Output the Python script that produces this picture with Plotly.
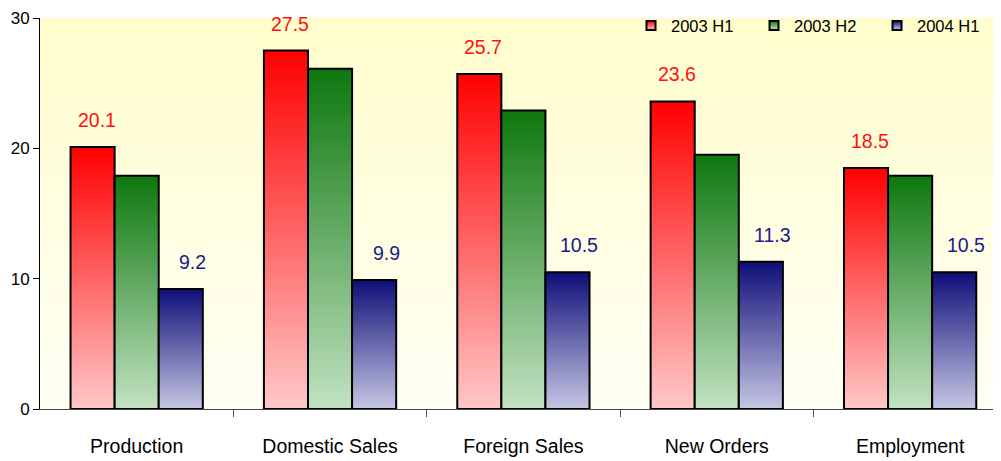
import base64
import plotly.graph_objects as go

categories = ["Production", "Domestic Sales", "Foreign Sales", "New Orders", "Employment"]
series_names = ["2003 H1", "2003 H2", "2004 H1"]
h1_2003 = [20.1, 27.5, 25.7, 23.6, 18.5]
h2_2003 = [17.9, 26.1, 22.9, 19.5, 17.9]
h1_2004 = [9.2, 9.9, 10.5, 11.3, 10.5]
y_ticks = [0, 10, 20, 30]

series_values = [h1_2003, h2_2003, h1_2004]
top_colors = ["#FF0000", "#0E780E", "#0E0E78"]
bottom_colors = ["#FFC8C8", "#C2E2C2", "#C6C6E4"]
label_colors = ["#FF1010", None, "#1A1A8C"]
label_xshift = [4, 0, 12]

FONT = "Liberation Sans, Arial, Helvetica, sans-serif"
bar_w = 0.228
offsets = [-bar_w, 0.0, bar_w]

fig = go.Figure()
annotations = []
for s, (name, vals) in enumerate(zip(series_names, series_values)):
    for i, v in enumerate(vals):
        xc = i + offsets[s]
        x0, x1 = xc - bar_w / 2, xc + bar_w / 2
        fig.add_trace(go.Scatter(
            x=[x0, x0, x1, x1, x0], y=[0, v, v, 0, 0],
            mode="lines", fill="toself",
            fillgradient=dict(type="vertical",
                              colorscale=[[0, bottom_colors[s]], [1, top_colors[s]]]),
            line=dict(color="#000000", width=2),
            name=name, legendgroup=name, showlegend=False,
            hoverinfo="skip",
        ))
        if label_colors[s]:
            annotations.append(dict(
                x=xc, y=v, xref="x", yref="y", text=f"{v:.1f}", showarrow=False,
                yshift=27, xshift=label_xshift[s],
                font=dict(family=FONT, size=19.5, color=label_colors[s]),
            ))

# legend entries (square gradient swatches)
for s, name in enumerate(series_names):
    fig.add_trace(go.Scatter(
        x=[None], y=[None], mode="markers", name=name, legendgroup=name,
        marker=dict(symbol="square", size=9, color=top_colors[s],
                    gradient=dict(type="vertical", color=bottom_colors[s]),
                    line=dict(color="black", width=2)),
    ))

svg = ('<svg xmlns="http://www.w3.org/2000/svg" width="100" height="100" preserveAspectRatio="none">'
       '<defs><linearGradient id="g" x1="0" y1="0" x2="0" y2="1">'
       '<stop offset="0" stop-color="#FFFDCC"/><stop offset="1" stop-color="#FFFFF4"/>'
       '</linearGradient></defs><rect width="100" height="100" fill="url(#g)"/></svg>')
svg_uri = "data:image/svg+xml;base64," + base64.b64encode(svg.encode()).decode()

fig.update_layout(
    width=993, height=453,
    margin=dict(l=32, r=0, t=8, b=52),
    paper_bgcolor="white", plot_bgcolor="rgba(0,0,0,0)",
    font=dict(family=FONT, size=19.5, color="black"),
    showlegend=True,
    legend=dict(orientation="h", x=0.615, xanchor="left", y=1.025, yanchor="top",
                bgcolor="rgba(0,0,0,0)", font=dict(size=16.5), entrywidth=78,
                itemwidth=30, traceorder="normal"),
    annotations=annotations,
    images=[dict(source=svg_uri, xref="paper", yref="paper", x=0, y=1,
                 sizex=1, sizey=1, sizing="stretch", layer="below",
                 xanchor="left", yanchor="top")],
    xaxis=dict(range=[-0.5, 4.47], tickvals=list(range(len(categories))),
               ticktext=categories, ticks="outside", ticklen=20,
               tickcolor="rgba(0,0,0,0)", showgrid=False, zeroline=False,
               showline=True, linecolor="#444444", linewidth=1,
               minor=dict(tickvals=[0.5, 1.5, 2.5, 3.5], ticks="outside",
                          ticklen=7, tickcolor="#555555", showgrid=False),
               tickfont=dict(size=19.5)),
    yaxis=dict(range=[0, 30], tickvals=y_ticks, ticks="outside", ticklen=6,
               tickcolor="black", showgrid=False, zeroline=False,
               showline=True, linecolor="black", linewidth=1,
               tickfont=dict(size=17)),
)
fig.write_html("out.html")
